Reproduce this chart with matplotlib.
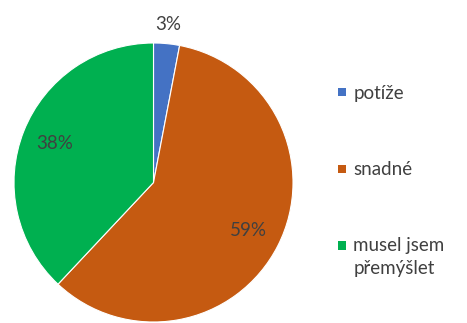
import numpy as np
import matplotlib.pyplot as plt
from matplotlib.lines import Line2D
from matplotlib.path import Path

labels = ["potíže", "snadné", "musel jsem\npřemýšlet"]
values = [3, 59, 38]
colors = ["#4472C4", "#C55A11", "#00B050"]

plt.rcParams["font.family"] = ["Lato", "DejaVu Sans"]
text_color = "#404040"

fig = plt.figure(figsize=(4.67, 3.23), dpi=100)
ax = fig.add_axes([13 / 467, 1 / 323, 281 / 467, 279 / 323])

wedges, texts = ax.pie(values, colors=colors, startangle=90, counterclock=False,
                       radius=1.0, wedgeprops=dict(edgecolor="white", linewidth=0.8))
ax.set_aspect("equal")
ax.set_xlim(-1, 1)
ax.set_ylim(-1, 1)

# percentage labels, the small slice gets its label outside
for w, v in zip(wedges, values):
    ang = np.deg2rad((w.theta1 + w.theta2) / 2)
    r = 1.14 if v < 10 else 0.76
    ax.text(r * np.cos(ang), r * np.sin(ang), f"{v}%", ha="center", va="center",
            fontsize=13.5, color=text_color)

# square marker; the one for the two-line label is shifted up to sit on the first line
square = Path([(-0.5, -0.5), (0.5, -0.5), (0.5, 0.5), (-0.5, 0.5), (-0.5, -0.5)])
square_up = Path([(-0.5, 0.85), (0.5, 0.85), (0.5, 1.85), (-0.5, 1.85), (-0.5, 0.85)])
msize = 6.3
handles = []
for c, lab in zip(colors, labels):
    if "\n" in lab:
        h = Line2D([], [], marker=square_up, linestyle="", markersize=msize * 1.85 / 0.5,
                   markerfacecolor=c, markeredgecolor=c, markeredgewidth=0)
    else:
        h = Line2D([], [], marker=square, linestyle="", markersize=msize,
                   markerfacecolor=c, markeredgecolor=c, markeredgewidth=0)
    handles.append(h)

leg = fig.legend(handles, labels, loc="center left", bbox_to_anchor=(0.676, 0.44),
                 frameon=False, fontsize=13.5, labelspacing=3.15, handletextpad=0.1,
                 handlelength=1.0, labelcolor=text_color)
for t in leg.get_texts():
    t.set_linespacing(1.4)

fig.savefig("out.png", dpi=100)
plt.close(fig)
